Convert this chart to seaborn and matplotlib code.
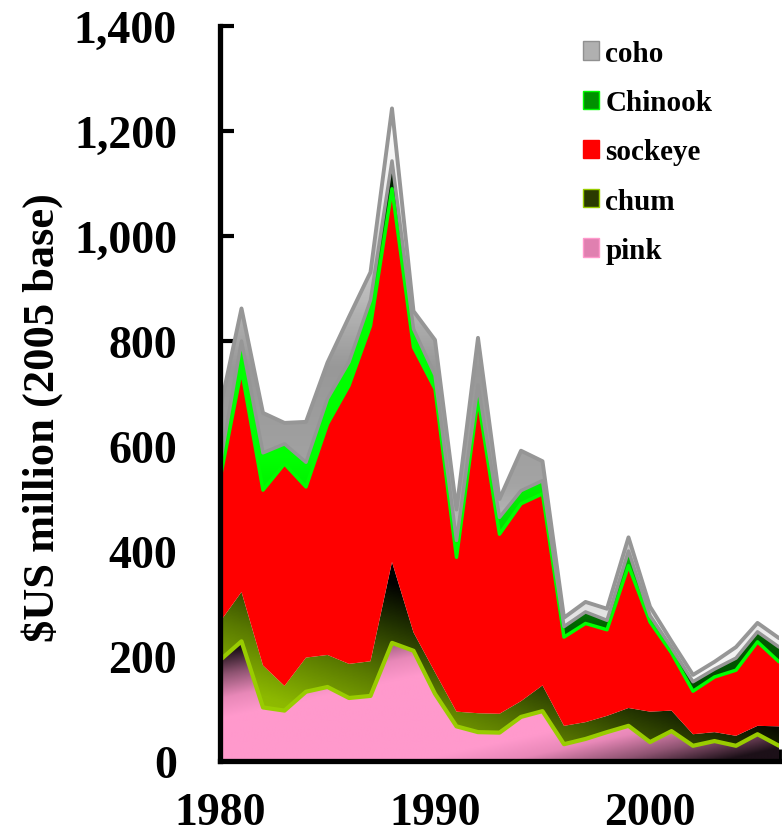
import numpy as np
import pandas as pd
import seaborn as sns
import matplotlib.pyplot as plt
from matplotlib.colors import LinearSegmentedColormap
from matplotlib.patches import Patch
from matplotlib.ticker import FuncFormatter, MultipleLocator

# Values in $US million (2005 base)
years = list(range(1980, 2007))
pink = [192, 228, 102, 96, 132, 141, 120, 124, 225, 210, 128, 66, 55, 54,
        84, 95, 32, 42, 55, 67, 36, 57, 29, 38, 29, 51, 29]
chum = [73, 94, 80, 47, 65, 61, 65, 66, 154, 35, 41, 28, 36, 36,
        30, 49, 35, 32, 31, 34, 58, 39, 22, 17, 19, 16, 37]
sockeye = [272, 423, 334, 423, 325, 440, 530, 639, 711, 543, 540, 294, 599, 342,
           376, 365, 169, 188, 164, 271, 171, 110, 82, 105, 125, 160, 123]
chinook = [28, 55, 71, 38, 47, 48, 45, 49, 53, 35, 26, 32, 26, 32,
           25, 25, 20, 22, 18, 28, 12, 10, 18, 15, 23, 19, 28]
coho = [105, 62, 76, 40, 77, 69, 86, 53, 100, 34, 67, 59, 90, 35,
        76, 37, 17, 19, 22, 26, 17, 12, 13, 14, 21, 17, 17]

species = ['pink', 'chum', 'sockeye', 'Chinook', 'coho']
df = pd.DataFrame({'year': years, 'pink': pink, 'chum': chum, 'sockeye': sockeye,
                   'Chinook': chinook, 'coho': coho})
cum = df[species].cumsum(axis=1)

sns.set_style('white')
plt.rcParams['font.family'] = ['Liberation Serif', 'DejaVu Serif']
plt.rcParams['font.weight'] = 'bold'
plt.rcParams['text.color'] = 'black'
plt.rcParams['axes.labelcolor'] = 'black'
plt.rcParams['xtick.color'] = 'black'
plt.rcParams['ytick.color'] = 'black'

fig = plt.figure(figsize=(7.82, 8.37), dpi=100)
ax = fig.add_axes([220 / 782, 75 / 837, 559 / 782, 735 / 837])

x0, x1, ytop = years[0], years[-1], 1400

# gradient colour maps (imitating the office-style gradient fills)
cmap_coho = LinearSegmentedColormap.from_list('coho', [
    (0, '#ffffff'), (0.16, '#f4f4f4'), (0.3, '#d0d0d0'), (0.42, '#a4a4a4'),
    (0.6, '#989898'), (0.74, '#c4c4c4'), (0.88, '#f0f0f0'), (1, '#ffffff')])
cmap_chin = LinearSegmentedColormap.from_list('chin', [
    (0, '#003000'), (0.22, '#006000'), (0.38, '#00e000'), (0.5, '#00ff00'),
    (0.78, '#00ff00'), (0.92, '#004000'), (1, '#000000')])
cmap_chum = LinearSegmentedColormap.from_list('chum', [
    (0, '#a8d400'), (0.2, '#8cb800'), (0.35, '#5a7a00'), (0.5, '#203000'),
    (0.6, '#000000'), (1, '#000000')])
cmap_pink = LinearSegmentedColormap.from_list('pink', [
    (0, '#ff99cc'), (0.3, '#e888b8'), (0.65, '#8f5472'), (1, '#1c1018')])

gx, gy = np.meshgrid(np.linspace(x0, x1, 300), np.linspace(0, ytop, 700))
xf = (gx - x0) / (x1 - x0)

grads = {
    'coho': cmap_coho(gy / 1250),
    'Chinook': cmap_chin(gy / 1150),
    'chum': cmap_chum((xf + gy / 380) / 2),
    'pink': cmap_pink(np.clip((np.abs(gy / 230 - xf) - 0.35) / 0.55, 0, 1)),
}

lower = np.zeros(len(years))
for name in species:
    upper = cum[name].values
    if name == 'sockeye':
        ax.fill_between(years, lower, upper, facecolor='#ff0000', edgecolor='none', zorder=1)
    else:
        poly = ax.fill_between(years, lower, upper, facecolor='none', edgecolor='none', zorder=1)
        im = ax.imshow(grads[name], extent=(x0, x1, 0, ytop), origin='lower',
                       aspect='auto', interpolation='bilinear', zorder=1)
        im.set_clip_path(poly.get_paths()[0], transform=ax.transData)
    lower = upper

# series borders
sns.lineplot(x=years, y=cum['pink'], color='#99cc00', linewidth=3, ax=ax, legend=False, zorder=3)
sns.lineplot(x=years, y=cum['sockeye'], color='#00ff00', linewidth=2.5, ax=ax, legend=False, zorder=3)
sns.lineplot(x=years, y=cum['Chinook'], color='#969696', linewidth=2.5, ax=ax, legend=False, zorder=3)
sns.lineplot(x=years, y=cum['coho'], color='#969696', linewidth=2.8, ax=ax, legend=False, zorder=3)

ax.set_xlim(x0, x1)
ax.set_ylim(0, ytop)

for side in ['top', 'right']:
    ax.spines[side].set_visible(False)
for side in ['left', 'bottom']:
    ax.spines[side].set_color('black')
    ax.spines[side].set_linewidth(3.8)
    ax.spines[side].set_zorder(5)

ax.yaxis.set_major_locator(MultipleLocator(200))
ax.yaxis.set_major_formatter(FuncFormatter(lambda v, p: f'{int(v):,}'))
ax.set_xticks([1980, 1990, 2000])
ax.xaxis.set_minor_locator(MultipleLocator(1))
ax.tick_params(axis='y', which='major', direction='in', length=10, width=3,
               color='black', labelcolor='black', labelsize=33, pad=31, left=True)
ax.tick_params(axis='x', which='both', direction='in', length=9, width=3.5,
               color='black', labelcolor='black', labelsize=33, pad=22, bottom=True)
for lab in ax.get_xticklabels() + ax.get_yticklabels():
    lab.set_fontweight('bold')

ax.set_xlabel('')
ax.set_ylabel(r'\$US million (2005 base)', fontsize=32, fontweight='bold', color='black')
ax.yaxis.set_label_coords(-0.281, 0.468)

handles = [
    Patch(facecolor='#b0b0b0', edgecolor='#909090', label='coho'),
    Patch(facecolor='#009000', edgecolor='#00ff00', label='Chinook'),
    Patch(facecolor='#ff0000', edgecolor='#ff0000', label='sockeye'),
    Patch(facecolor='#2a3a00', edgecolor='#99cc00', label='chum'),
    Patch(facecolor='#e080b0', edgecolor='#ff99cc', label='pink'),
]
ax.legend(handles=handles, loc='upper left', bbox_to_anchor=(583 / 782, 1 - 41 / 837),
          bbox_transform=fig.transFigure, frameon=False, borderpad=0, borderaxespad=0,
          prop={'size': 21, 'weight': 'bold'}, handlelength=0.55, handleheight=0.6,
          handletextpad=0.22, labelspacing=0.76, labelcolor='black')

fig.savefig('out.png', dpi=100)
